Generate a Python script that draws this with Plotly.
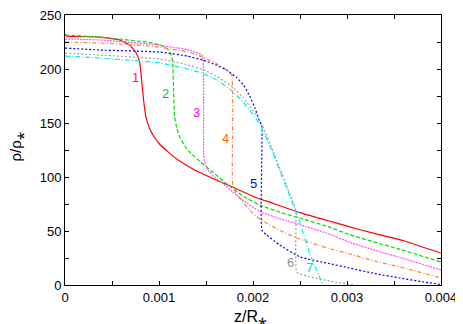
import plotly.graph_objects as go

# curve data (z in units of R*, rho in units of rho*)
z1 = [0, 0.000016, 0.000368, 0.000581, 0.000687, 0.000751, 0.000794, 0.000815, 0.000836, 0.00086, 0.0009,
      0.00095, 0.001, 0.0011, 0.0012, 0.0013, 0.0014, 0.0016, 0.0018, 0.002, 0.0022, 0.0025,
      0.0028, 0.003, 0.0033, 0.0036, 0.004]
rho1 = [232.4, 230.6, 229.6, 226.9, 222.2, 215.7, 206.5, 189.8, 171.3, 156, 145,
        137, 131, 123, 116, 110.5, 105.5, 97.5, 90, 82, 76, 67,
        59.5, 54.5, 47.5, 41, 29.6]

z2 = [0, 0.000368, 0.0009, 0.001007, 0.00106, 0.0011, 0.00113, 0.001145, 0.001155, 0.001166, 0.00119, 0.00122,
      0.00128, 0.00135, 0.001433, 0.00155, 0.001731, 0.0019, 0.002072, 0.0023, 0.002498, 0.0028, 0.00303,
      0.0033, 0.003563, 0.004]
rho2 = [231.5, 229.6, 224.5, 222.2, 220.4, 217.5, 213, 207, 180, 156, 145, 137,
        128, 121, 114.5, 106, 93, 82, 74, 67, 62, 54, 46.5,
        39.5, 33, 21.3]

z3 = [0, 0.000368, 0.0009, 0.0013, 0.00144, 0.001465, 0.001475, 0.001486, 0.00151, 0.001539, 0.0016,
      0.001667, 0.001784, 0.0019, 0.002072, 0.0023, 0.002498, 0.0028, 0.00303, 0.0033, 0.003563, 0.004]
rho3 = [227.8, 226.9, 223.1, 218, 214, 212, 120.4, 114, 108, 104.6, 99,
        95, 86.1, 78, 68, 61, 56, 47.5, 39.5, 32, 25.5, 13.9]

z4 = [0, 0.000368, 0.0009, 0.0013, 0.001465, 0.0016, 0.00172, 0.001774, 0.001784, 0.00182, 0.001859,
      0.001965, 0.002072, 0.0023, 0.002466, 0.0028, 0.00303, 0.0033, 0.003563, 0.004]
rho4 = [225, 224.1, 221.3, 216, 211.1, 205.5, 199.1, 194.4, 92.6, 85, 80.6,
        69.4, 61, 50, 43.5, 34, 28.7, 22, 16.7, 6.5]

z5 = [0, 0.000368, 0.001007, 0.0013, 0.001465, 0.0016, 0.001727, 0.001827, 0.0019, 0.001965, 0.002025, 0.002072,
      0.002093, 0.002094, 0.002146, 0.002285, 0.002498, 0.0028, 0.00303, 0.0033, 0.003563, 0.0038, 0.004]
rho5 = [219.4, 217.6, 215.7, 212, 208.3, 204, 198.5, 192, 185, 175, 163, 151,
        148.1, 50.9, 46.3, 37, 26, 20, 15.7, 10.5, 6.5, 3, 0.5]

z6 = [0, 0.000368, 0.001007, 0.0013, 0.001465, 0.0016, 0.001774, 0.0019, 0.002072, 0.002232, 0.002392,
      0.002455, 0.002466, 0.002604, 0.0028, 0.002924, 0.003083]
rho6 = [214.8, 213, 209.3, 204, 199.5, 194, 184, 173, 153, 120, 84,
        69.4, 12, 7.4, 4, 1.9, 0]

z7 = [0, 0.000368, 0.001007, 0.0013, 0.001465, 0.0016, 0.001774, 0.0019, 0.002072, 0.00221, 0.002392,
      0.002498, 0.002604, 0.002743]
rho7 = [212, 210.2, 205.6, 200, 196, 190.5, 180, 169, 149, 122.2, 82,
        58.3, 29, 0]

labels = ["1", "2", "3", "4", "5", "6", "7"]
label_z = [0.000751, 0.001070, 0.001400, 0.001710, 0.002010, 0.002400, 0.002600]
label_rho = [192, 177, 160, 136, 94, 21, 16]

xtickvals = [0, 0.0005, 0.001, 0.0015, 0.002, 0.0025, 0.003, 0.0035, 0.004]
xticktext = ["0", "", "0.001", "", "0.002", "", "0.003", "", "0.004"]
ytickvals = [0, 25, 50, 75, 100, 125, 150, 175, 200, 225, 250]
yticktext = ["0", "", "50", "", "100", "", "150", "", "200", "", "250"]

#%% styles
curves = [(z1, rho1, "#ff0000", "solid"),
          (z2, rho2, "#00e000", "4px,2px"),
          (z3, rho3, "#ff50ff", "2px,1px"),
          (z4, rho4, "#ff7f40", "4px,2px,1px,2px"),
          (z5, rho5, "#0000ff", "2px,2px"),
          (z6, rho6, "#a0a0a0", "2px,2px"),
          (z7, rho7, "#00eeee", "5px,2px,1px,2px")]
label_colors = ["#ff2020", "#00cc00", "#ff00ff", "#ff6a20", "#0000ff", "#909090", "#00dddd"]

fig = go.Figure()
for z, rho, col, dash in curves:
    fig.add_trace(go.Scatter(x=z, y=rho, mode="lines", line_shape="spline", line_smoothing=0.4,
                             line=dict(color=col, width=1.2, dash=dash)))

for t, zx, ry, c in zip(labels, label_z, label_rho, label_colors):
    fig.add_annotation(x=zx, y=ry, text=t, showarrow=False,
                       font=dict(size=13, color=c, family="Liberation Sans"))

# axis titles as annotations so the margins stay fixed
fig.add_annotation(xref="paper", yref="paper", x=0.494, y=-0.117, yanchor="middle",
                   text="z/R⁎", showarrow=False,
                   font=dict(size=16, color="black", family="Liberation Sans"))
fig.add_annotation(xref="paper", yref="paper", x=-0.13, y=0.51, xanchor="center",
                   text="ρ/ρ⁎", textangle=-90, showarrow=False,
                   font=dict(size=15, color="black", family="Liberation Sans"))

axis_style = dict(showline=True, linecolor="black", linewidth=1, mirror="ticks",
                  ticks="inside", ticklen=4, tickcolor="black", showgrid=False,
                  zeroline=False, automargin=False, ticklabeloverflow="allow",
                  tickfont=dict(size=13, color="black", family="Liberation Sans"))

fig.update_xaxes(range=[0, 0.004], tickvals=xtickvals, ticktext=xticktext, **axis_style)
fig.update_yaxes(range=[0, 250], tickvals=ytickvals, ticktext=yticktext, **axis_style)

# page body has an 8px margin, so the figure is made 8px smaller each way
fig.update_layout(width=455, height=316, showlegend=False,
                  margin=dict(l=57, r=22, t=7, b=39),
                  plot_bgcolor="white", paper_bgcolor="white",
                  font=dict(family="Liberation Sans", color="black"))

fig.write_html("out.html")
